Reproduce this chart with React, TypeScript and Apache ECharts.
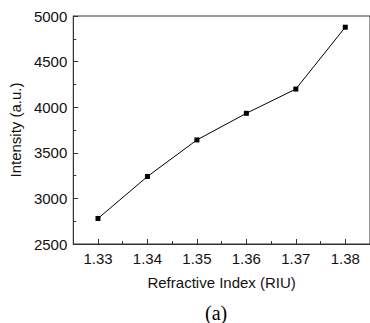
import React, { useEffect, useRef } from "react";
import * as echarts from "echarts";

const refractiveIndex = [1.33, 1.34, 1.35, 1.36, 1.37, 1.38];
const intensity = [2780, 3240, 3641, 3933, 4199, 4877];
const xTicks = ["1.33", "1.34", "1.35", "1.36", "1.37", "1.38"];

export default function App() {
  const ref = useRef<HTMLDivElement>(null);
  useEffect(() => {
    if (!ref.current) return;
    const chart = echarts.init(ref.current, null, { renderer: "svg" });
    const font = "Liberation Sans, Arial, sans-serif";
    const tickCats: string[] = [];
    xTicks.forEach((t) => {
      tickCats.push("");
      tickCats.push(t);
    });
    tickCats.push("");
    chart.setOption({
      animation: false,
      backgroundColor: "#ffffff",
      grid: {
        left: 69,
        top: 16,
        width: 303,
        height: 228,
        show: true,
        borderColor: "#333",
        borderWidth: 1,
      },
      xAxis: [
        {
          type: "value",
          min: 1.325,
          max: 1.385,
          interval: 0.005,
          name: "Refractive Index (RIU)",
          nameLocation: "middle",
          nameGap: 31,
          nameTextStyle: { fontFamily: font, fontSize: 15, color: "#111" },
          axisLine: { lineStyle: { color: "#333", width: 1 } },
          axisTick: { inside: true, length: 3, lineStyle: { color: "#333" } },
          splitLine: { show: false },
          axisLabel: { show: false },
        },
        {
          type: "category",
          position: "bottom",
          data: tickCats,
          boundaryGap: false,
          axisLine: { show: false },
          axisTick: {
            inside: true,
            length: 5,
            interval: (i: number) => i % 2 === 1,
            lineStyle: { color: "#333" },
          },
          splitLine: { show: false },
          axisLabel: {
            margin: 7,
            interval: (i: number) => i % 2 === 1,
            fontFamily: font,
            fontSize: 15,
            color: "#111",
          },
        },
      ],
      yAxis: {
        type: "value",
        min: 2500,
        max: 5000,
        interval: 500,
        name: "Intensity (a.u.)",
        nameLocation: "middle",
        nameGap: 47,
        nameTextStyle: { fontFamily: font, fontSize: 15, color: "#111" },
        axisLine: { show: true, lineStyle: { color: "#333", width: 1 } },
        axisTick: { inside: true, length: 5, lineStyle: { color: "#333" } },
        minorTick: { show: true, splitNumber: 2, length: 3, lineStyle: { color: "#333" } },
        splitLine: { show: false },
        axisLabel: {
          margin: 6,
          fontFamily: font,
          fontSize: 15,
          color: "#111",
          formatter: (v: number) => String(v),
        },
      },
      series: [
        {
          type: "line",
          xAxisIndex: 0,
          data: refractiveIndex.map((x, i) => [x, intensity[i]]),
          symbol: "rect",
          symbolSize: 5,
          itemStyle: { color: "#000" },
          lineStyle: { color: "#000", width: 1 },
        },
      ],
      graphic: [
        {
          type: "text",
          left: 205,
          top: 303,
          style: {
            text: "(a)",
            fontFamily: "Liberation Serif, Times New Roman, serif",
            fontSize: 20,
            fill: "#000",
          },
        },
      ],
    });
    return () => chart.dispose();
  }, []);
  return (
    <div
      ref={ref}
      style={{ position: "fixed", left: 0, top: 0, width: 370, height: 323 }}
    />
  );
}
